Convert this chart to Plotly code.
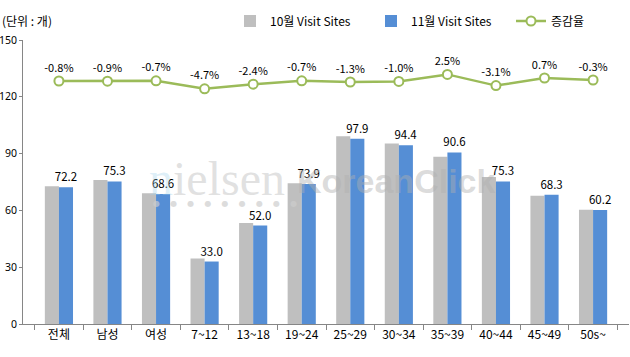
import plotly.graph_objects as go

categories = ["전체", "남성", "여성", "7~12", "13~18", "19~24", "25~29", "30~34", "35~39", "40~44", "45~49", "50s~"]
oct_sites = [72.8, 76.0, 69.1, 34.6, 53.3, 74.4, 99.2, 95.4, 88.4, 77.7, 67.8, 60.4]
nov_sites = [72.2, 75.3, 68.6, 33.0, 52.0, 73.9, 97.9, 94.4, 90.6, 75.3, 68.3, 60.2]
change_pct = [-0.8, -0.9, -0.7, -4.7, -2.4, -0.7, -1.3, -1.0, 2.5, -3.1, 0.7, -0.3]
y_ticks = [0, 30, 60, 90, 120, 150]

FONT = "Malgun Gothic, Noto Sans CJK KR, Noto Sans, sans-serif"
GRAY = "#BFBFBF"
BLUE = "#558ED5"
GREEN = "#9BBB59"
AXIS = "#868686"

L, R, T, B, W, H = 23, 1, 40, 33, 630, 357
PW, PH = W - L - R, H - T - B


def px(x):
    return (x - L) / PW


def py(y):
    return (H - B - y) / PH


fig = go.Figure()
fig.add_trace(go.Bar(
    x=categories, y=oct_sites, name="10월 Visit Sites", legend="legend",
    marker=dict(color=GRAY, line=dict(width=0)),
))
fig.add_trace(go.Bar(
    x=categories, y=nov_sites, name="11월 Visit Sites", legend="legend2",
    marker=dict(color=BLUE, line=dict(width=0)),
    text=[f"{v:.1f}" for v in nov_sites], textposition="outside",
    constraintext="none",
    textfont=dict(size=11.5, color="#000000", family=FONT),
    cliponaxis=False,
))
fig.add_trace(go.Scatter(
    x=categories, y=change_pct, name="증감율", yaxis="y2", legend="legend3",
    mode="lines+markers+text",
    line=dict(color=GREEN, width=2.5),
    marker=dict(symbol="circle", size=9, color="white", line=dict(color=GREEN, width=2)),
    text=[f"{v:.1f}%" for v in change_pct], textposition="top center",
    textfont=dict(size=11, color="#000000", family=FONT),
    cliponaxis=False,
))

leg_common = dict(orientation="h", xref="paper", yref="paper", xanchor="left",
                  yanchor="middle", y=py(21), font=dict(size=12, family=FONT),
                  itemwidth=30, bgcolor="rgba(0,0,0,0)")

fig.update_layout(
    width=W, height=H,
    margin=dict(l=L, r=R, t=T, b=B, autoexpand=False),
    paper_bgcolor="white", plot_bgcolor="white",
    font=dict(family=FONT, size=11, color="#000000"),
    barmode="group", bargap=0.42, bargroupgap=0,
    showlegend=True,
    legend=dict(x=px(272 - 42), **leg_common),
    legend2=dict(x=px(413 - 42), **leg_common),
    legend3=dict(x=px(553 - 42), **leg_common),
    xaxis=dict(showline=True, linecolor=AXIS, linewidth=1, ticks="outside",
               tickson="boundaries", ticklen=5, tickcolor=AXIS, automargin=False,
               tickfont=dict(size=12, family=FONT), showgrid=False),
    yaxis=dict(range=[0, 150], tickvals=y_ticks, showline=True, linecolor=AXIS,
               linewidth=1, ticks="outside", ticklen=3, tickcolor=AXIS, automargin=False,
               showgrid=False, zeroline=False,
               tickfont=dict(size=10.5, family="Noto Sans")),
    yaxis2=dict(overlaying="y", range=[-122.3, 19.7], visible=False),
    annotations=[
        dict(text="(단위 : 개)", xref="paper", yref="paper", x=px(0), y=py(21),
             xanchor="left", yanchor="middle", showarrow=False,
             font=dict(size=12, family=FONT)),
        dict(text="<span style='color:rgba(160,210,235,0.6)'>n</span>ielsen",
             xref="paper", yref="paper", x=px(217), y=py(178),
             xanchor="center", yanchor="middle", showarrow=False,
             font=dict(size=48, family="Liberation Serif", color="rgba(205,205,205,0.6)")),
        dict(text="●    ●    ●    ●    ●    ●    ●    ●    ●",
             xref="paper", yref="paper", x=px(151), y=py(203),
             xanchor="left", yanchor="middle", showarrow=False,
             font=dict(size=8, family="DejaVu Sans", color="rgba(205,205,205,0.7)")),
        dict(text="<b>KoreanClick</b>",
             xref="paper", yref="paper", x=px(396), y=py(181),
             xanchor="center", yanchor="middle", showarrow=False,
             font=dict(size=34, family="Liberation Sans", color="rgba(175,175,175,0.45)")),
    ],
)

fig.write_html("out.html", config={"displayModeBar": False},
               post_script="document.body.style.margin='0';")
